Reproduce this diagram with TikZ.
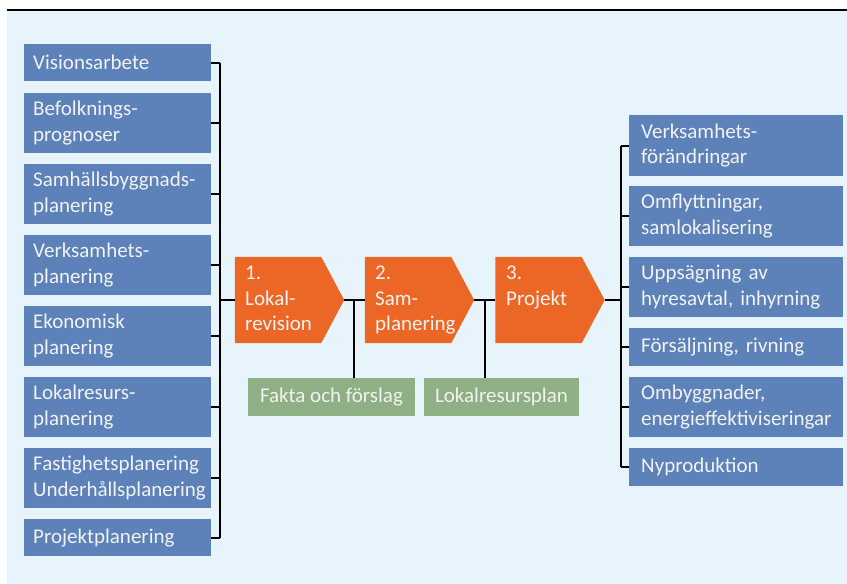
\documentclass[tikz,border=0pt]{standalone}
\usepackage{fontspec}
\setmainfont{Carlito}
\definecolor{bgblue}{RGB}{232,244,252}
\definecolor{boxblue}{RGB}{92,130,185}
\definecolor{chevorange}{RGB}{236,103,38}
\definecolor{boxgreen}{RGB}{143,175,132}
\definecolor{textc}{RGB}{242,242,242}
\begin{document}
\begin{tikzpicture}[x=1pt,y=-1pt,
  txt/.style={font=\fontsize{21}{25.5}\selectfont, text=textc},
  lbox/.style={txt, fill=boxblue, anchor=north west, minimum width=187pt, text width=169pt, inner xsep=9pt, inner ysep=0pt, align=left},
  rbox/.style={txt, fill=boxblue, anchor=north west, minimum width=214pt, text width=190pt, inner xsep=12pt, inner ysep=0pt, align=left},
  gbox/.style={txt, fill=boxgreen, inner sep=0pt, minimum height=38pt},
  chev/.style={inner sep=0pt, minimum width=109pt, minimum height=86pt},
  ctext/.style={txt, anchor=north west, align=left, inner sep=0pt},
  conn/.style={line width=1.8pt, black}
]
\useasboundingbox (0,0) rectangle (847,584);
\fill[bgblue] (7,11) rectangle (847,584);
\draw[line width=1.4pt] (7,10) -- (847,10);

% left boxes
\node[lbox, minimum height=37pt] (b1) at (24,44) {Visionsarbete};
\node[lbox, minimum height=60pt] (b2) at (24,93) {Befolknings-\\prognoser};
\node[lbox, minimum height=60pt] (b3) at (24,164) {Samhällsbyggnads-\\planering};
\node[lbox, minimum height=60pt] (b4) at (24,235) {Verksamhets-\\planering};
\node[lbox, minimum height=60pt] (b5) at (24,306) {Ekonomisk\\planering};
\node[lbox, minimum height=60pt] (b6) at (24,377) {Lokalresurs-\\planering};
\node[lbox, minimum height=60pt] (b7) at (24,448) {Fastighetsplanering\\Underhållsplanering};
\node[lbox, minimum height=37pt] (b8) at (24,519) {Projektplanering};

% right boxes
\node[rbox, minimum height=61pt] (r1) at (629,115) {Verksamhets-\\förändringar};
\node[rbox, minimum height=60pt] (r2) at (629,186) {Omflyttningar,\\samlokalisering};
\node[rbox, minimum height=60pt] (r3) at (629,257) {Uppsägning av\\hyresavtal, inhyrning};
\node[rbox, minimum height=38pt] (r4) at (629,328) {Försäljning, rivning};
\node[rbox, minimum height=60pt] (r5) at (629,377) {Ombyggnader,\\energieffektiviseringar};
\node[rbox, minimum height=38pt] (r6) at (629,448) {Nyproduktion};

% chevrons
\node[chev] (c1) at (289.5,300) {};
\node[chev] (c2) at (419.5,300) {};
\node[chev] (c3) at (550,300) {};
\foreach \c in {c1,c2,c3}{
  \fill[chevorange] (\c.north west) -- ([xshift=-23pt]\c.north east) -- (\c.east)
    -- ([xshift=-23pt]\c.south east) -- (\c.south west) -- cycle;
}
\node[ctext] (t1) at (245,266) {1.\\Lokal-\\revision};
\node[ctext] (t2) at (375,266) {2.\\Sam-\\planering};
\node[ctext] (t3) at (506,266) {3.\\Projekt};

% green boxes
\node[gbox, minimum width=167pt] (g1) at (331.5,397) {Fakta och förslag};
\node[gbox, minimum width=155pt] (g2) at (501.5,397) {Lokalresursplan};

% junction coordinates
\coordinate (jL) at (220,300);
\coordinate (jR) at (621,300);
\coordinate (d1) at (354,300);
\coordinate (d2) at (485,300);

% left connectors
\foreach \b in {b1,b2,b3,b4,b5,b6,b7,b8}{
  \draw[conn] (\b.east) -- (\b.east -| jL);
}
\draw[conn] (b1.east -| jL) -- (b8.east -| jL);
\draw[conn] (jL) -- (c1.west);
\draw[conn] (c1.east) -- (c2.west);
\draw[conn] (c2.east) -- (c3.west);
\draw[conn] (d1) -- (d1 |- g1.north);
\draw[conn] (d2) -- (d2 |- g2.north);
\draw[conn] (c3.east) -- (jR);

% right connectors
\draw[conn] (r1.west -| jR) -- (r6.west -| jR);
\foreach \r in {r1,r2,r3,r4,r5,r6}{
  \draw[conn] (\r.west -| jR) -- (\r.west);
}
\end{tikzpicture}
\end{document}
